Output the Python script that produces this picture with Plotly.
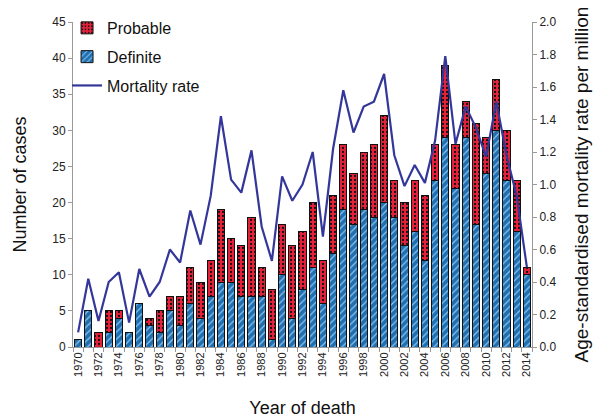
import plotly.graph_objects as go

years = list(range(1970, 2015))
definite = [1, 5, 0, 2, 4, 2, 6, 3, 2, 5, 3, 6, 4, 7, 9, 9, 7, 7, 7, 1,
            10, 4, 8, 11, 6, 13, 19, 17, 19, 18, 20, 18, 14, 16, 12, 23, 29, 22, 29, 17,
            24, 30, 23, 16, 10]
probable = [0, 0, 2, 3, 1, 0, 0, 1, 3, 2, 4, 5, 5, 5, 10, 6, 7, 11, 4, 7,
            7, 10, 8, 9, 6, 8, 9, 7, 8, 10, 12, 5, 6, 7, 9, 5, 10, 6, 5, 14,
            5, 7, 7, 7, 1]
mortality = [0.09, 0.42, 0.16, 0.40, 0.46, 0.15, 0.48, 0.31, 0.40, 0.60,
             0.52, 0.84, 0.63, 0.93, 1.42, 1.03, 0.95, 1.21, 0.74, 0.53,
             1.05, 0.90, 1.00, 1.20, 0.68, 1.22, 1.58, 1.32, 1.48, 1.51,
             1.68, 1.18, 0.99, 1.12, 1.01, 1.27, 1.79, 1.25, 1.48, 1.35,
             1.17, 1.51, 1.18, 0.93, 0.49]
tick_years = list(range(1970, 2015, 2))

FONT = "Liberation Sans, Arial, sans-serif"

fig = go.Figure()
fig.add_trace(go.Bar(
    x=years, y=definite, name="Definite", legendrank=2, legendgroup="d",
    marker=dict(color="#1f6fb0", line=dict(color="#111111", width=1),
                pattern=dict(shape="/", fgcolor="#8cc3ee", bgcolor="#1f6fb0",
                             size=5, solidity=0.25, fillmode="replace")),
))
fig.add_trace(go.Bar(
    x=years, y=probable, name="Probable", legendrank=1, legendgroup="p",
    marker=dict(color="#e8213a", line=dict(color="#111111", width=1),
                pattern=dict(shape=".", fgcolor="#111111", bgcolor="#e8213a",
                             size=4, solidity=0.25, fillmode="replace")),
))
fig.add_trace(go.Scatter(
    x=years, y=mortality, name="Mortality rate", legendrank=3, legendgroup="m",
    mode="lines", line=dict(color="#34379a", width=2.2), yaxis="y2",
))

fig.update_layout(
    width=598, height=418,
    margin=dict(l=73, r=66, t=22, b=71, autoexpand=False),
    paper_bgcolor="white", plot_bgcolor="white",
    barmode="stack", bargap=0.28,
    font=dict(family=FONT, size=12, color="#222222"),
    showlegend=True,
    legend=dict(x=-0.013, y=1.034, xanchor="left", yanchor="top",
                bgcolor="rgba(0,0,0,0)", font=dict(size=16, color="#111111"),
                tracegroupgap=5, itemwidth=30),
    xaxis=dict(
        range=[1969.5, 2014.5], tickmode="array", tickvals=tick_years,
        ticktext=[str(y) for y in tick_years], tickangle=-90, automargin=False,
        showgrid=False, zeroline=False, showline=True, linecolor="#999999", linewidth=1,
        ticks="outside", ticklen=0, tickcolor="#999999",
        minor=dict(tickmode="linear", tick0=1969.5, dtick=1, ticks="outside",
                   ticklen=4, tickcolor="#999999", showgrid=False),
        tickfont=dict(size=11, color="#222222"),
        title=dict(text="Year of death", font=dict(size=18, color="#111111"), standoff=27),
    ),
    yaxis=dict(
        range=[0, 45], dtick=5, showgrid=False, zeroline=False, automargin=False,
        showline=True, linecolor="#999999", linewidth=1,
        ticks="outside", ticklen=4, tickcolor="#999999",
        tickfont=dict(size=12, color="#222222"),
        title=dict(text="Number of cases", font=dict(size=18, color="#111111"), standoff=20),
    ),
    yaxis2=dict(
        range=[0, 2.0], dtick=0.2, tickformat=".1f", overlaying="y", side="right",
        showgrid=False, zeroline=False, showline=True, linecolor="#999999", linewidth=1,
        ticks="outside", ticklen=4, tickcolor="#999999", automargin=False,
        tickfont=dict(size=12, color="#222222"),
        title=dict(text="Age-standardised mortality rate per million",
                   font=dict(size=19, color="#111111"), standoff=19),
    ),
)

fig.write_html("out.html", config={"displayModeBar": False},
               post_script="document.body.style.margin='0px';document.body.style.overflow='hidden';")
